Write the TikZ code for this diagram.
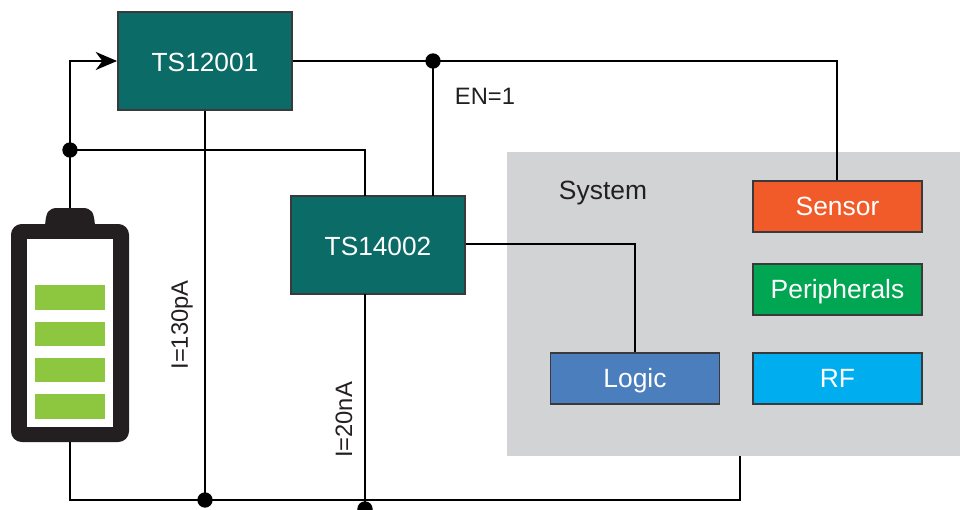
\documentclass[tikz,border=0pt]{standalone}
\usepackage{fontspec}
\setmainfont{Liberation Sans}
\usetikzlibrary{arrows.meta,positioning}
\definecolor{tealbox}{HTML}{0B6B66}
\definecolor{sensorc}{HTML}{F15A29}
\definecolor{periphc}{HTML}{00A651}
\definecolor{logicc}{HTML}{4A7EBD}
\definecolor{rfc}{HTML}{00AEEF}
\definecolor{sysc}{HTML}{D1D3D4}
\definecolor{batc}{HTML}{231F20}
\definecolor{cellc}{HTML}{8DC63F}
\definecolor{edgec}{HTML}{3A3A3C}
\tikzset{
  x=0.75pt,y=-0.75pt,
  chip/.style={draw=edgec,line width=1.4pt,fill=tealbox,text=white,minimum width=130.5pt,minimum height=73.5pt,inner sep=0pt,text height=16pt,text depth=0pt,font=\fontsize{19.7}{24}\selectfont},
  module/.style={draw=edgec,line width=1.1pt,text=white,minimum width=126.8pt,minimum height=38.2pt,inner sep=0pt,text height=14.2pt,text depth=0pt,font=\fontsize{19.8}{24}\selectfont},
  wire/.style={line width=1.5pt,black,line join=miter},
  dotn/.style={circle,fill=black,inner sep=0pt,minimum size=11.5pt},
  lab/.style={text=batc,inner sep=0pt,font=\fontsize{17.8}{22}\selectfont},
  cell/.style={fill=cellc,draw=none,minimum width=52.5pt,inner sep=0pt},
  arr/.style={-{Stealth[length=16pt,width=13.5pt,inset=5pt]}}
}
\begin{document}
\begin{tikzpicture}
\useasboundingbox (0,0) rectangle (960,510);
% System panel
\node[fill=sysc,draw=none,minimum width=339.75pt,minimum height=228pt,inner sep=0pt] (sys) at (733.5,304) {};
\node[lab,font=\fontsize{19.8}{24}\selectfont] (systxt) at (603,193) {System};
% Battery
\fill[batc] (45,226) .. controls (46,212) and (48,208) .. (58,208) -- (82,208) .. controls (92,208) and (94,212) .. (95,226) -- cycle;
\node[fill=batc,rounded corners=8pt,minimum width=88.5pt,minimum height=163.5pt,inner sep=0pt] (bat) at (70,333) {};
\node[fill=white,minimum width=65pt,minimum height=141pt,inner sep=0pt] (batin) at (70,333) {};
\coordinate (battop) at (70,208);
\node[cell,minimum height=18.5pt] (c1) at (70,297.5) {};
\node[cell,minimum height=18pt] (c2) at (70,334) {};
\node[cell,minimum height=18pt] (c3) at (70,370) {};
\node[cell,minimum height=18.8pt] (c4) at (70,406.5) {};
% Chips
\node[chip] (a) at (205,61) {TS12001};
\node[chip] (b) at (378,245) {TS14002};
% Modules
\node[module,fill=sensorc] (sensor) at (837.5,206.5) {Sensor};
\node[module,fill=periphc] (periph) at (837.5,289.5) {Peripherals};
\node[module,fill=logicc] (logic) at (635,378.5) {Logic};
\node[module,fill=rfc] (rf) at (837.5,378.5) {RF};
% Junctions
\node[dotn] (j1) at (70,150) {};
\node[dotn] (j2) at (433,61) {};
\node[dotn] (j3) at (205,500) {};
\node[dotn] (j4) at (365,509) {};
\coordinate (b1) at (365,196);
\coordinate (b2) at (433,196);
\coordinate (b3) at (365,294);
\coordinate (c1top) at (837,61);
\coordinate (sysb) at (740,456);
\coordinate (corner) at (70,500);
% Wires
\draw[wire] (battop) -- (j1.center);
\draw[wire,arr] (j1.center) |- (a.west);
\draw[wire] (j1.center) -| (b1);
\draw[wire] (a.east) -- (j2.center) -- (c1top) -- (sensor.north-|c1top);
\draw[wire] (j2.center) -- (b2);
\draw[wire] (a.south) -- (j3.center);
\draw[wire] (b3) -- (j4.center);
\draw[wire] (b.east|-0,244) -| (logic.north);
\draw[wire] (bat.south) -- (corner) -- (j3.center) -- (sysb|-j3) -- (sysb);
% Labels
\node[lab] (en) at (485,96) {EN=1};
\node[lab,rotate=90] (i1) at (182,325) {I=130pA};
\node[lab,rotate=90] (i2) at (344,420) {I=20nA};
\end{tikzpicture}
\end{document}
